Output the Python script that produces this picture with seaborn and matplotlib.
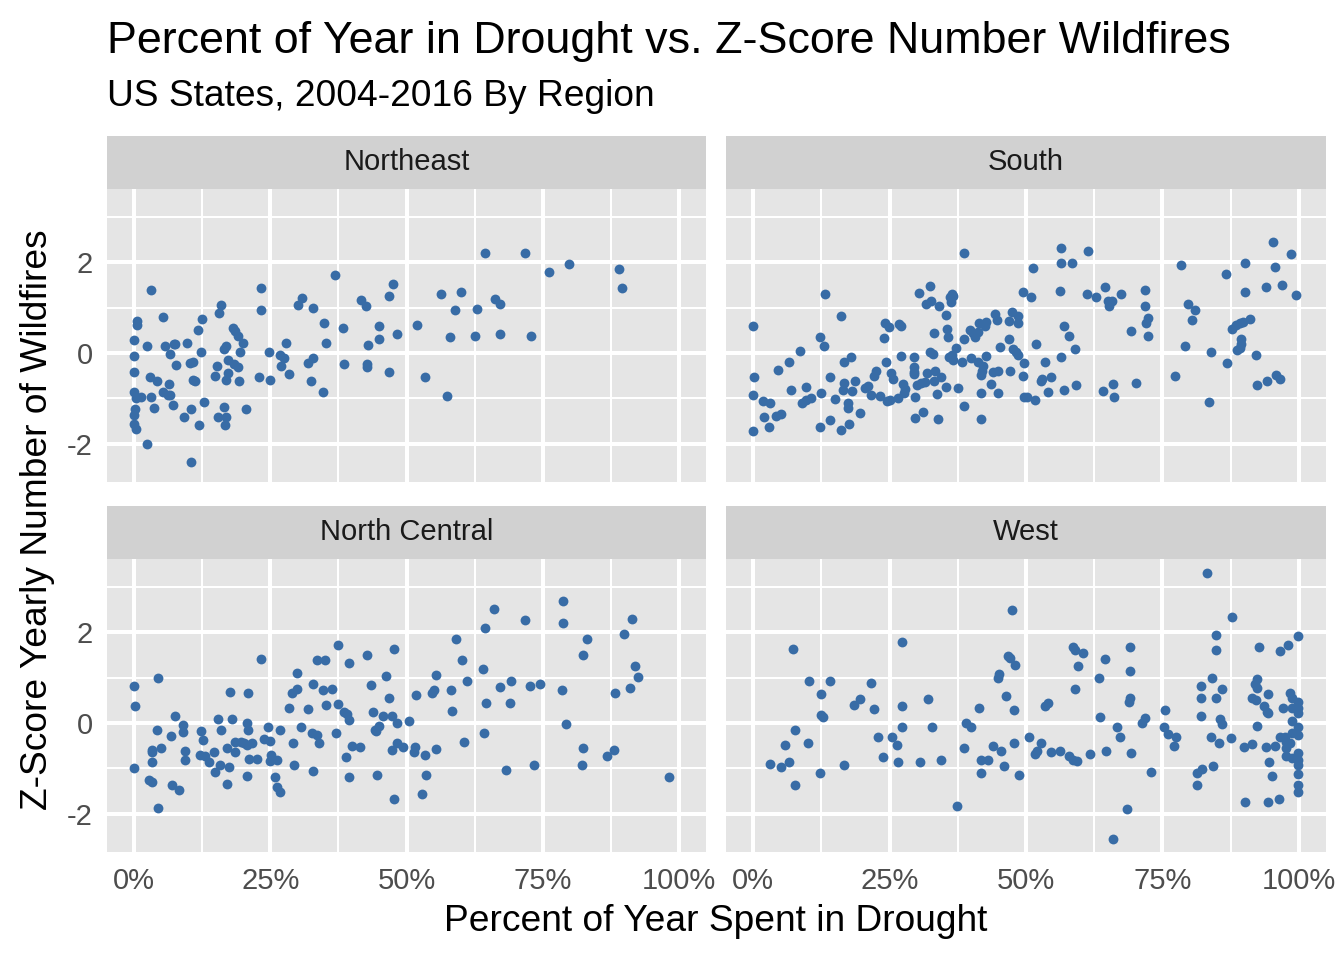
import numpy as np
import pandas as pd
import matplotlib
matplotlib.use("Agg")
import matplotlib.pyplot as plt
import seaborn as sns

# ---------------- data (percent of year in drought, z-score of wildfire count) ----------------
regions = ["Northeast", "South", "North Central", "West"]

ne_x = [3.0, 0, 0.5, 0.6, 0, 0, 0, 0.3, 1.3, 0.2, 0, 0, 0.3, 2.3, 10.5, 2.4, 5.3, 5.6, 7.3, 7.5,
        6.5, 7.7, 9.7, 2.9, 4.2, 6.4, 5.3, 6.2, 6.6, 3.0, 3.7, 7.1, 9.2, 10.5, 11.9, 12.9, 10.2, 10.8,
        10.8, 11.2, 12.2, 11.7, 12.4, 15.5, 16.0, 14.9, 15.2, 16.5, 16.8, 17.3, 17.2, 16.9, 18.2, 18.5,
        19.1, 19.9, 19.4, 18.4, 19.1, 19.3, 16.4, 15.4, 16.9, 16.6, 20.6, 23.3, 23.3, 24.7, 23.0, 25.0,
        26.8, 27.5, 26.9, 27.8, 28.5, 30.1, 30.9, 32.8, 34.9, 35.2, 32.0, 32.9, 32.5, 34.6, 36.9, 38.4,
        38.5, 41.7, 42.6, 43.0, 42.8, 42.8, 45.0, 45.0, 46.8, 47.5, 46.7, 48.3,
        64.4, 71.8, 76.2, 79.8, 89.0, 89.5, 56.4, 60.1, 58.9, 62.9, 66.2, 67.2, 51.9, 57.9, 62.6, 67.2,
        72.9, 53.4, 57.5]
ne_y = [1.38, 0.29, 0.71, 0.62, -0.06, -0.41, -0.86, -1.00, -0.98, -1.23, -1.38, -1.58, -1.69, -2.02,
        -2.40, 0.16, 0.80, 0.16, 0.20, 0.20, -0.02, -0.26, 0.23, -0.54, -0.62, -0.69, -0.86, -0.92,
        -0.93, -0.97, -1.22, -1.14, -1.41, -1.23, -1.60, -1.08, -0.23, -0.19, -0.59, -0.62, 0.01, 0.51,
        0.75, 0.88, 1.05, -0.51, -0.29, 0.09, 0.15, -0.15, -0.45, -0.59, 0.56, 0.49, 0.37, 0.23, 0.03,
        -0.24, -0.31, -0.61, -1.20, -1.41, -1.41, -1.60, -1.24, 1.44, 0.94, 0.01, -0.54, -0.60, -0.05,
        -0.11, -0.28, 0.22, -0.46, 1.05, 1.22, 1.00, 0.65, 0.23, -0.22, -0.11, -0.62, -0.87, 1.72, 0.56,
        -0.25, 1.17, 1.03, 0.18, -0.24, -0.30, 0.59, 0.30, 1.25, 1.52, -0.42, 0.41,
        2.20, 2.21, 1.79, 1.97, 1.85, 1.44, 1.31, 1.34, 0.95, 0.98, 1.20, 1.08, 0.62, 0.35, 0.37, 0.42,
        0.37, -0.54, -0.94]

so_x = [0, 0.1, 0, 0, 1.8, 3.0, 1.9, 2.8, 4.2, 5.0, 4.5, 6.6, 8.5, 7.0, 9.7, 8.9, 9.7, 10.5, 12.2,
        12.9, 13.2, 12.4, 14.1, 12.2, 14.0, 16.1, 15.0, 16.0, 16.6, 16.5, 16.7, 17.9, 18.1, 18.7, 17.4,
        17.4, 17.6, 19.6, 20.5, 21.1, 21.6, 23.2, 22.1, 22.5, 23.9, 24.2, 24.9, 24.3, 24.5, 25.1, 25.3,
        25.6, 26.6, 26.8, 27.1, 27.1, 27.5, 27.9, 27.7, 29.4, 29.5, 29.4, 29.5, 29.7, 29.7, 30.0, 30.7,
        31.5, 31.1, 30.3, 32.4, 31.7, 32.6, 34.1, 33.1, 32.4, 33.0, 31.9, 33.4, 33.2, 34.4, 33.6, 33.9,
        35.3, 35.3, 35.5, 35.7, 36.1, 36.5, 36.7, 36.2, 37.1, 35.8, 36.5, 36.7, 38.2, 37.5, 38.6, 38.6,
        38.6, 39.7, 40.3, 40.7, 41.2, 41.3, 42.7, 42.5, 44.4, 44.6, 39.9, 41.2, 42.7, 42.2, 41.7, 42.0,
        44.0, 44.9, 41.7, 41.7, 43.6, 44.9, 45.3, 46.9, 47.1, 46.8, 47.4, 48.6, 48.5, 47.7, 48.2, 48.6,
        49.4, 49.7, 49.4, 49.7,
        51.2, 51.0, 51.9, 53.5, 52.7, 53.0, 54.5, 50.1, 51.7, 54.1, 57.0, 59.2, 56.4, 59.0, 57.0, 57.8,
        56.4, 56.4, 58.4, 61.4, 56.2, 61.2, 62.8, 64.5, 65.0, 65.7, 65.3, 67.4, 71.9, 71.9, 72.3, 72.0,
        69.3, 72.3, 64.2, 65.9, 66.2, 70.2, 78.4, 79.7, 80.9, 80.4, 79.2, 77.4, 83.5, 83.9, 86.9, 86.7,
        90.1, 90.2, 87.8, 88.5, 89.2, 89.7, 91.0, 89.4, 89.5, 88.7, 89.2, 92.2, 92.3, 94.1, 95.9, 96.5,
        95.2, 98.5, 95.6, 94.0, 97.0, 99.5]
so_y = [0.59, -0.53, -0.92, -1.72, -1.06, -1.11, -1.41, -1.63, -1.40, -1.35, -0.38, -0.20, 0.04,
        -0.81, -0.75, -1.10, -1.05, -0.99, 0.36, 0.15, 1.31, -0.89, -0.53, -1.64, -1.47, 0.82, -1.02,
        -1.70, -0.67, -0.81, -0.20, -0.09, -0.85, -0.61, -1.11, -1.21, -1.58, -1.33, -0.78, -0.74,
        -0.93, -0.96, -0.51, -0.40, 0.34, 0.65, 0.58, -0.19, -1.07, -1.03, -0.45, -0.58, -1.00, 0.63,
        0.60, -0.07, -0.68, -0.79, -0.89, -0.10, -0.30, -0.41, -0.46, -0.97, -1.43, -0.70, -0.67,
        -0.65, -1.30, 1.33, 1.48, 1.09, 1.14, 1.03, 0.45, 0.03, -0.03, -0.45, -0.40, -0.61, -0.54,
        -0.91, -1.45, 0.83, -0.76, 0.52, 0.36, 1.23, 1.31, 1.25, 1.13, 0.10, -0.08, -0.04, -0.15,
        -0.19, -0.78, 2.21, -1.18, 0.30, 0.51, 0.43, 0.36, 0.47, 0.67, 0.69, 0.60, 0.85, 0.72, -0.12,
        -0.21, -0.07, -0.29, -0.48, -0.39, -0.41, -0.40, -1.46, -0.89, -0.69, -0.89, 0.14, 0.31,
        -0.40, 0.71, 0.91, 0.82, 0.67, 0.08, 0.03, -0.04, 1.34, -0.23, -0.50, -0.97,
        1.88, 1.24, 0.20, -0.21, -0.61, -0.58, -0.54, -0.98, -1.04, -0.86, -0.81, -0.71, -0.09, 0.08,
        0.59, 0.38, 2.31, 1.99, 1.99, 2.25, 1.36, 1.31, 1.23, 1.46, 1.14, 1.15, 1.03, 1.31, 1.39, 1.03,
        0.78, 0.65, 0.48, 0.37, -0.85, -0.68, -0.98, -0.67, 1.94, 1.09, 0.95, 0.72, 0.16, -0.52, -1.08,
        0.03, -0.23, 1.75, 1.99, 1.34, 0.53, 0.62, 0.67, 0.69, 0.75, 0.30, 0.19, 0.07, 0.10, -0.04,
        -0.70, -0.61, -0.48, -0.58, 2.45, 2.19, 1.90, 1.46, 1.49, 1.28]

nc_x = [0, 0.2, 0, 4.3, 4.1, 3.2, 3.3, 3.2, 4.9, 2.7, 3.2, 4.3, 6.9, 8.2, 7.4, 6.7, 8.9, 8.9, 9.3,
        9.3, 12.2, 12.6, 12.1, 13.0, 13.8, 14.6, 15.4, 15.9, 15.7, 14.9, 17.0, 17.4, 17.1, 17.9, 17.5,
        18.5, 18.5, 19.6, 20.2, 20.8, 21.6, 20.9, 20.8, 20.9, 21.1, 22.5, 20.7, 23.2, 23.8, 24.9, 24.5,
        25.2, 24.9, 26.2, 25.8, 26.2, 26.8, 26.8, 28.5, 28.9, 29.8, 29.8, 29.1, 29.3, 30.6, 32.0, 32.9,
        32.7, 33.5, 33.9, 32.9, 33.6, 35.0, 34.7, 36.3, 35.2, 37.0, 37.5, 37.5, 39.4, 38.6, 39.0, 39.4,
        39.9, 38.9, 39.5, 41.5, 42.7, 43.5, 43.9, 44.2, 44.9, 44.4, 45.6, 44.6, 46.3, 46.8, 47.4, 48.3,
        47.7, 48.3, 49.4, 47.4, 47.7,
        50.5, 51.6, 51.4, 53.4, 53.5, 52.8, 55.5, 51.7, 54.7, 55.0, 55.5, 58.2, 58.3, 59.0, 60.2, 61.2,
        60.6, 64.0, 64.5, 66.1, 64.6, 64.2, 67.1, 69.2, 69.0, 68.2, 71.8, 72.7, 74.5, 73.5, 78.8, 78.7,
        78.6, 79.3, 83.2, 82.4, 82.5, 82.3, 88.1, 86.8, 91.4, 89.9, 92.0, 92.5, 91.0, 88.2, 98.2]
nc_y = [0.82, 0.37, -0.99, 1.00, -0.15, -0.59, -0.65, -0.86, -0.55, -1.25, -1.30, -1.87, -1.38,
        -1.49, 0.15, -0.29, -0.05, -0.21, -0.61, -0.82, -0.18, -0.37, -0.70, -0.73, -0.86, -0.64, 0.08,
        -0.16, -0.93, -1.08, -1.34, -0.97, -0.56, 0.08, 0.68, -0.42, -0.64, -0.42, -0.45, -0.48, -0.45,
        0.67, -0.01, -0.15, -0.80, -0.79, -1.17, 1.41, -0.36, -0.40, -0.10, -0.70, -0.84, -0.81, -1.19,
        -1.41, -1.52, -0.16, 0.32, 0.65, 0.74, 1.11, -0.44, -0.92, -0.10, 0.31, 0.87, -0.23, -0.26,
        -0.45, -1.06, 1.38, 1.40, 0.72, 0.74, 0.40, -0.23, 1.71, 0.42, 1.33, 0.25, 0.19, 0.07, -0.51,
        -0.76, -1.20, -0.53, 1.49, 0.84, 0.24, -0.15, -0.06, -0.18, 0.15, -1.16, 1.04, 0.56, 0.15,
        -0.01, 1.64, -0.44, -0.53, -0.60, -1.68,
        0.04, -0.54, -0.65, -0.71, -1.16, -1.58, -0.57, 0.62, 0.65, 0.73, 1.05, 0.73, 0.27, 1.86, 1.38,
        0.93, -0.41, 1.19, 2.10, 2.52, 0.43, -0.23, 0.80, 0.93, 0.43, -1.05, 2.27, 0.81, 0.85, -0.92,
        2.69, 2.20, 0.73, -0.02, 1.85, 1.50, -0.56, -0.92, -0.59, -0.73, 2.29, 1.97, 1.25, 1.01, 0.78,
        0.65, -1.20]

we_x = [7.2, 3.0, 5.0, 6.6, 5.8, 7.6, 7.7, 10.1, 10.3, 14.1, 12.4, 12.5, 12.8, 12.2, 16.6, 21.6,
        18.5, 19.6, 22.2, 22.9, 23.8, 25.4, 26.4, 26.6, 27.2, 27.2, 27.2, 30.5, 32.1, 32.7, 34.5, 37.3,
        38.6, 39.0, 39.9, 41.3, 41.7, 43.0, 41.7, 44.0, 45.5, 45.9, 48.8, 47.8, 44.8, 45.1, 46.3, 47.8,
        46.7, 47.0, 47.9, 47.4,
        50.6, 52.8, 51.7, 52.0, 54.5, 56.2, 57.8, 58.7, 59.4, 61.7, 64.7, 69.3, 63.5, 66.6, 67.3, 53.4,
        54.0, 59.0, 58.7, 59.0, 60.5, 59.5, 63.3, 64.5, 69.0, 69.0, 69.0, 68.9, 71.3, 71.8, 68.6, 65.9,
        72.9, 75.4, 75.3, 76.1, 77.5, 77.1, 83.2, 87.8, 84.8, 84.8, 84.1, 82.0, 82.1, 82.0, 84.9, 85.9,
        85.6, 85.9, 84.0, 85.4, 87.6, 82.3, 81.4, 84.3, 81.4, 92.7, 96.5, 98.0, 99.8, 92.4, 92.0, 92.4,
        94.3, 91.4, 92.2, 93.7, 94.2, 94.4, 97.1, 92.3, 89.9, 91.4, 94.0, 95.6, 94.6, 95.1, 90.1, 94.3,
        96.3, 98.4, 98.8, 99.8, 99.8, 98.8, 99.8, 98.8, 99.8, 98.7, 99.8, 96.5, 97.4, 97.7, 98.4, 97.7,
        97.7, 98.7, 99.8, 99.8, 99.8, 99.8, 99.8, 99.8]
we_y = [1.63, -0.91, -0.97, -0.86, -0.48, -1.36, -0.16, -0.44, 0.92, 0.92, 0.64, 0.18, 0.14, -1.11,
        -0.92, 0.88, 0.40, 0.53, 0.31, -0.31, -0.76, -0.30, -0.48, -0.86, 1.78, 0.38, -0.10, -0.87,
        0.53, -0.08, -0.81, -1.84, -0.56, -0.01, -0.08, 0.34, -0.81, -0.81, -1.11, -0.50, -0.62, -0.95,
        -1.16, -0.45, 1.00, 1.08, 0.59, 0.28, 1.47, 1.44, 1.27, 2.50,
        -0.30, -0.45, -0.69, -0.61, -0.64, -0.62, -0.73, -0.82, -0.85, -0.68, -0.62, -0.67, 0.13, -0.10,
        -0.31, 0.37, 0.43, 0.76, 1.68, 1.60, 1.55, 1.25, 0.99, 1.41, 1.68, 1.15, 0.54, 0.47, -0.01, 0.10,
        -1.90, -2.56, -1.09, 0.28, -0.09, -0.24, -0.30, -0.50, 3.31, 2.34, 1.94, 1.60, 1.00, 0.81, 0.55,
        0.16, 0.54, 0.75, 0.08, -0.03, -0.30, -0.44, -0.34, -1.01, -1.11, -0.96, -1.37, 1.68, 1.58, 1.71,
        1.93, 0.98, 0.87, 0.78, 0.63, 0.54, 0.51, 0.37, 0.25, 0.23, 0.32, -0.07, -0.53, -0.46, -0.53,
        -0.52, -0.86, -1.18, -1.75, -1.74, -1.68, 0.65, 0.54, 0.47, 0.32, 0.34, 0.21, 0.05, -0.08, -0.23,
        -0.26, -0.30, -0.30, -0.41, -0.45, -0.56, -0.74, -0.78, -0.67, -0.81, -0.92, -1.13, -1.38, -1.52]

xs = {"Northeast": ne_x, "South": so_x, "North Central": nc_x, "West": we_x}
ys = {"Northeast": ne_y, "South": so_y, "North Central": nc_y, "West": we_y}

df = pd.concat([pd.DataFrame({"region": r, "drought": xs[r], "zscore": ys[r]}) for r in regions],
               ignore_index=True)

x_ticks = [0, 25, 50, 75, 100]
x_tick_labels = ["0%", "25%", "50%", "75%", "100%"]
y_ticks = [-2, 0, 2]
y_tick_labels = ["-2", "0", "2"]

# ---------------- style ----------------
sns.set_theme(style="white")
plt.rcParams["font.family"] = ["Liberation Sans", "DejaVu Sans"]

W, H = 1344, 960
fig = plt.figure(figsize=(W / 100, H / 100), dpi=100)
fig.patch.set_facecolor("white")

def rect(l, t, r, b):
    return [l / W, 1 - b / H, (r - l) / W, (b - t) / H]

panel_box = {"Northeast": (107, 189, 706, 482), "South": (726, 189, 1326, 482),
             "North Central": (107, 559, 706, 852), "West": (726, 559, 1326, 852)}
strip_h = 53
point_color = "#386CA6"
tick_size = 21

for r in regions:
    l, t, rr, b = panel_box[r]
    ax = fig.add_axes(rect(l, t, rr, b))
    ax.set_facecolor("#E5E5E5")
    sub = df[df["region"] == r]
    sns.scatterplot(data=sub, x="drought", y="zscore", ax=ax, color=point_color,
                    s=50, linewidth=0, zorder=3, legend=False)
    ax.set_xlim(-5, 105)
    ax.set_ylim(-2.85, 3.62)
    ax.set_xticks(x_ticks)
    ax.set_xticks([12.5, 37.5, 62.5, 87.5], minor=True)
    ax.set_yticks(y_ticks)
    ax.set_yticks([-1, 1, 3], minor=True)
    ax.set_axisbelow(True)
    ax.grid(which="major", color="white", linewidth=2.9)
    ax.grid(which="minor", color="white", linewidth=1.45)
    for s in ax.spines.values():
        s.set_visible(False)
    ax.set_xlabel("")
    ax.set_ylabel("")
    ax.tick_params(which="minor", length=0)
    bottom = r in ("North Central", "West")
    left = r in ("Northeast", "North Central")
    if bottom:
        ax.set_xticklabels(x_tick_labels)
        ax.tick_params(axis="x", which="major", length=6, width=1.45, color="#333333",
                       labelsize=tick_size, labelcolor="#4D4D4D", pad=5)
    else:
        ax.tick_params(axis="x", which="major", length=0, labelbottom=False)
    if left:
        ax.set_yticklabels(y_tick_labels)
        ax.tick_params(axis="y", which="major", length=6, width=1.45, color="#333333",
                       labelsize=tick_size, labelcolor="#4D4D4D", pad=4)
    else:
        ax.tick_params(axis="y", which="major", length=0, labelleft=False)

    sax = fig.add_axes(rect(l, t - strip_h, rr, t))
    sax.set_facecolor("#D1D1D1")
    sax.set_xticks([])
    sax.set_yticks([])
    for s in sax.spines.values():
        s.set_visible(False)
    sax.text(0.5, 0.5, r, ha="center", va="center", fontsize=tick_size, color="#1A1A1A",
             transform=sax.transAxes)

fig.text(107 / W, 1 - 53 / H, "Percent of Year in Drought vs. Z-Score Number Wildfires",
         fontsize=32.3, color="black", ha="left", va="baseline")
fig.text(107 / W, 1 - 106 / H, "US States, 2004-2016 By Region",
         fontsize=26.7, color="black", ha="left", va="baseline")
fig.text(716 / W, 1 - 931 / H, "Percent of Year Spent in Drought",
         fontsize=26.7, color="black", ha="center", va="baseline")
fig.text(47 / W, 1 - 520 / H, "Z-Score Yearly Number of Wildfires",
         fontsize=26.7, color="black", ha="center", va="baseline", rotation=90,
         rotation_mode="anchor")

fig.savefig("out.png", dpi=100, facecolor="white")
